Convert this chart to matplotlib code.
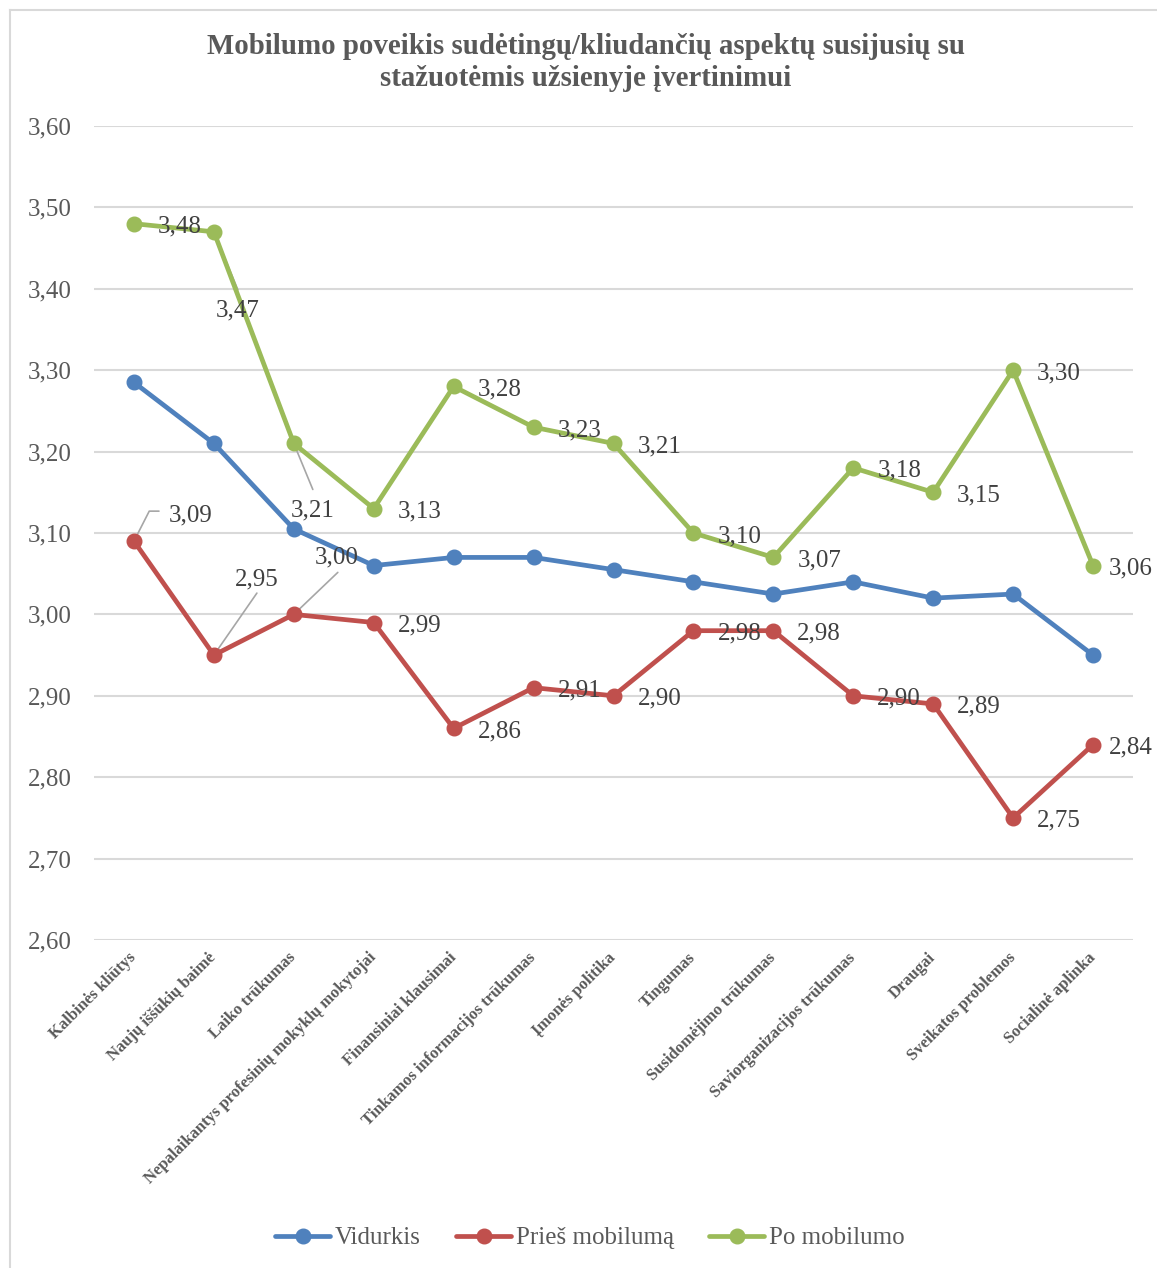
import numpy as np
import matplotlib.pyplot as plt

categories = [
    "Kalbinės kliūtys", "Naujų iššūkių baimė", "Laiko trūkumas",
    "Nepalaikantys profesinių mokyklų mokytojai", "Finansiniai klausimai",
    "Tinkamos informacijos trūkumas", "Įmonės politika", "Tingumas",
    "Susidomėjimo trūkumas", "Saviorganizacijos trūkumas", "Draugai",
    "Sveikatos problemos", "Socialinė aplinka",
]
vidurkis = [3.285, 3.21, 3.105, 3.06, 3.07, 3.07, 3.055, 3.04, 3.025, 3.04, 3.02, 3.025, 2.95]
pries = [3.09, 2.95, 3.00, 2.99, 2.86, 2.91, 2.90, 2.98, 2.98, 2.90, 2.89, 2.75, 2.84]
po = [3.48, 3.47, 3.21, 3.13, 3.28, 3.23, 3.21, 3.10, 3.07, 3.18, 3.15, 3.30, 3.06]
yticks = [2.6, 2.7, 2.8, 2.9, 3.0, 3.1, 3.2, 3.3, 3.4, 3.5, 3.6]

BLUE, RED, GREEN = "#4F81BD", "#C0504D", "#9BBB59"
GRAY = "#595959"
SERIF = ["Liberation Serif", "DejaVu Serif"]
plt.rcParams["font.family"] = SERIF

W, H = 1157, 1268
fig = plt.figure(figsize=(W / 100, H / 100), dpi=100)
ax = fig.add_axes([94 / W, (H - 940) / H, (1133 - 94) / W, (940 - 126) / H])

x = np.arange(len(categories))
for vals, col, name in [(vidurkis, BLUE, "Vidurkis"), (pries, RED, "Prieš mobilumą"), (po, GREEN, "Po mobilumo")]:
    ax.plot(x, vals, color=col, lw=3.4, marker="o", ms=10.5, label=name,
            solid_capstyle="round", zorder=3)

ax.set_xlim(-0.5, len(categories) - 0.5)
ax.set_ylim(2.6, 3.6)
ax.set_yticks(yticks)
ax.set_yticklabels([f"{v:.2f}".replace(".", ",") for v in yticks])
ax.grid(axis="y", color="#D9D9D9", lw=1.5)
ax.set_axisbelow(True)
for s in ax.spines.values():
    s.set_visible(False)
ax.tick_params(axis="y", length=0, pad=16, labelsize=18, labelcolor=GRAY)
ax.tick_params(axis="x", length=0, pad=11)
ax.set_xticks(x)
ax.set_xticklabels(categories, rotation=45, ha="right", va="center",
                   rotation_mode="anchor", fontsize=12, fontweight="bold", color=GRAY)


def fmt(v):
    return f"{v:.2f}".replace(".", ",")


# custom label positions (pixel offsets) and leader line ends
custom_po = {1: ((2, -79), (24, -58)), 2: ((-3, -67), (19, -46)), 12: ((16, -3), None)}
custom_pries = {0: ((35, 26), (25, 30)), 1: ((21, 76), (43, 62)), 2: ((21, 57), (44, 42)),
                12: ((16, -3), None)}

for vals, custom in [(po, custom_po), (pries, custom_pries)]:
    for i, v in enumerate(vals):
        off, lead = custom.get(i, ((24, -3), None))
        if lead is not None:
            style = "angle,angleA=0,angleB=63,rad=0" if (vals is pries and i == 0) else "arc3"
            ax.annotate("", xy=(i, v), xytext=lead, textcoords="offset pixels",
                        arrowprops=dict(arrowstyle="-", color="#A6A6A6", lw=1.2,
                                        shrinkA=0, shrinkB=0, connectionstyle=style),
                        zorder=2)
        ax.annotate(fmt(v), xy=(i, v), xytext=off, textcoords="offset pixels",
                    ha="left", va="center", fontsize=18, color="#404040", zorder=4)

fig.text(586 / W, 1 - 47 / H, "Mobilumo poveikis sudėtingų/kliudančių aspektų susijusių su",
         ha="center", va="center", fontsize=20.8, fontweight="bold", color=GRAY)
fig.text(586 / W, 1 - 79 / H, "stažuotėmis užsienyje įvertinimui",
         ha="center", va="center", fontsize=20.8, fontweight="bold", color=GRAY)

fig.legend(loc="center", bbox_to_anchor=(590 / W, 1 - 1238 / H), ncol=3, frameon=False,
           fontsize=18, handlelength=2.2, handletextpad=0.2, columnspacing=1.4,
           labelcolor=GRAY)

# chart area border (left and top only visible)
fig.add_artist(plt.Line2D([10 / W, 10 / W], [0, 1 - 10 / H], color="#D9D9D9", lw=1.5))
fig.add_artist(plt.Line2D([10 / W, 1], [1 - 10 / H, 1 - 10 / H], color="#D9D9D9", lw=1.5))

fig.savefig("out.png", dpi=100)
